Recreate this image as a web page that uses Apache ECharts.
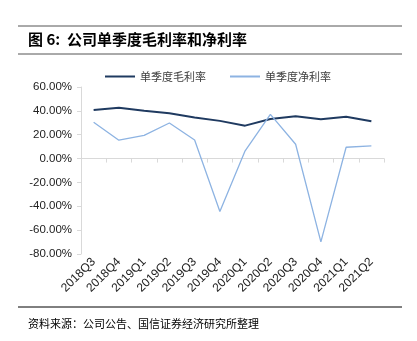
<!DOCTYPE html>
<html>
<head>
<meta charset="utf-8">
<script src="https://cdn.jsdelivr.net/npm/echarts@6/dist/echarts.min.js"></script>
<style>
  html, body { margin: 0; padding: 0; background: #fff; }
  #chart { width: 417px; height: 341px; }
</style>
</head>
<body>
<div id="chart"></div>
<script>
// Quarterly margins (%)
const quarters = ['2018Q3', '2018Q4', '2019Q1', '2019Q2', '2019Q3', '2019Q4',
                  '2020Q1', '2020Q2', '2020Q3', '2020Q4', '2021Q1', '2021Q2'];
const grossMargin = [40.7, 42.6, 40.1, 37.9, 34.5, 31.6, 27.6, 33.2, 35.4, 32.9, 35.1, 31.2];
const netMargin   = [30.4, 15.4, 19.5, 29.8, 15.5, -44.3, 6.5, 37.1, 12.0, -69.8, 9.5, 10.6];

const titleText = '图 6:  公司单季度毛利率和净利率';
const sourceText = '资料来源：公司公告、国信证券经济研究所整理';
const grossName = '单季度毛利率';
const netName = '单季度净利率';

const cjk = '"Noto Sans CJK SC", sans-serif';
const latin = '"Liberation Sans", Arial, sans-serif';

const chart = echarts.init(document.getElementById('chart'), null, { renderer: 'canvas' });

chart.setOption({
  animation: false,
  backgroundColor: '#fff',
  graphic: [
    { type: 'line', shape: { x1: 18, y1: 26, x2: 402, y2: 26 }, style: { stroke: '#555', lineWidth: 1 } },
    { type: 'text', left: 28, top: 32, style: { text: titleText, font: 'bold 15px ' + cjk, fill: '#000' } },
    { type: 'line', shape: { x1: 18, y1: 54, x2: 402, y2: 54 }, style: { stroke: '#555', lineWidth: 1 } },
    { type: 'line', shape: { x1: 18, y1: 307, x2: 402, y2: 307 }, style: { stroke: '#000', lineWidth: 1 } },
    { type: 'text', left: 28, top: 318, style: { text: sourceText, font: '11px ' + cjk, fill: '#000' } }
  ],
  legend: {
    left: 100,
    top: 66,
    itemGap: 24,
    itemWidth: 30,
    itemHeight: 2,
    icon: 'rect',
    textStyle: { fontFamily: cjk, fontSize: 11, color: '#404040', padding: [0, 0, 0, 0] },
    data: [grossName, netName]
  },
  grid: { left: 81, right: 33, top: 87, bottom: 87, containLabel: false },
  xAxis: {
    type: 'category',
    data: quarters,
    boundaryGap: true,
    axisLine: { onZero: true, lineStyle: { color: '#d9d9d9', width: 1 } },
    axisTick: { show: true, alignWithLabel: false, length: 4, lineStyle: { color: '#d9d9d9' } },
    axisLabel: { rotate: 45, interval: 0, margin: 6, fontFamily: latin, fontSize: 12, color: '#222' },
    splitLine: { show: false }
  },
  yAxis: {
    type: 'value',
    min: -80,
    max: 60,
    interval: 20,
    axisLine: { show: true, lineStyle: { color: '#d9d9d9', width: 1 } },
    axisTick: { show: true, length: 4, lineStyle: { color: '#d9d9d9' } },
    axisLabel: {
      margin: 9,
      fontFamily: latin,
      fontSize: 11.5,
      color: '#222',
      formatter: v => v.toFixed(2) + '%'
    },
    splitLine: { show: false }
  },
  series: [
    {
      name: grossName,
      type: 'line',
      data: grossMargin,
      symbol: 'none',
      lineStyle: { color: '#1f3a60', width: 2 },
      itemStyle: { color: '#1f3a60' }
    },
    {
      name: netName,
      type: 'line',
      data: netMargin,
      symbol: 'none',
      lineStyle: { color: '#8db3e2', width: 1.3 },
      itemStyle: { color: '#8db3e2' }
    }
  ]
});
</script>
</body>
</html>
